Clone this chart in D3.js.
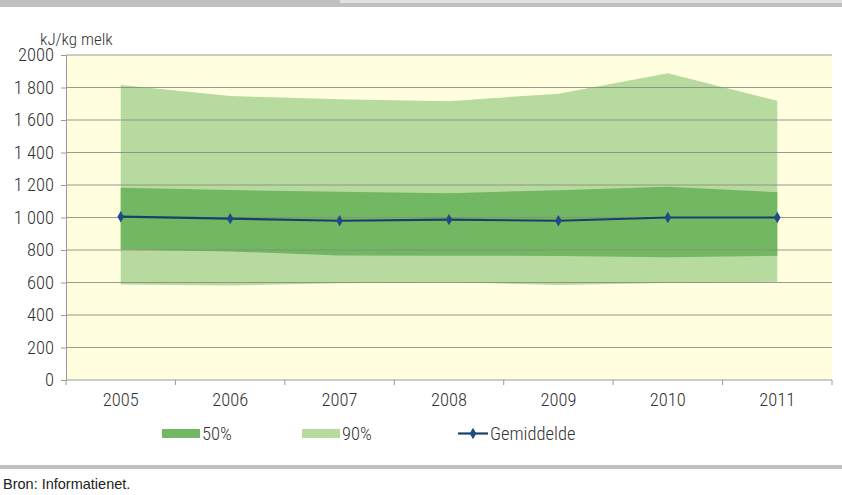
<!DOCTYPE html>
<html><head><meta charset="utf-8">
<script src="https://cdn.jsdelivr.net/npm/d3@7"></script>
<style>
body{margin:0;background:#fff;}
svg text{font-family:"Roboto Condensed","Liberation Sans Narrow",sans-serif;fill:#333;font-weight:300;}
svg text.src{font-family:"Liberation Sans",Arial,sans-serif;fill:#222;font-weight:normal;}
</style></head><body>
<svg id="c" width="842" height="495"></svg>
<script>
const years = ["2005","2006","2007","2008","2009","2010","2011"];
const p90Upper = [1815, 1748, 1727, 1716, 1762, 1887, 1718];
const p90Lower = [588, 581, 595, 602, 585, 597, 604];
const p50Upper = [1183, 1169, 1159, 1150, 1168, 1190, 1156];
const p50Lower = [803, 791, 766, 765, 763, 755, 765];
const mean = [1005, 993, 980, 987, 980, 1000, 1000];
const yTicks = [0,200,400,600,800,1000,1200,1400,1600,1800,2000];
const yTickLabels = ["0","200","400","600","800","1 000","1 200","1 400","1 600","1 800","2000"];
const legendLabels = ["50%","90%","Gemiddelde"];

const svg = d3.select("#c");
const L = 66, R = 832, T = 55, B = 380;
const x = d3.scaleBand().domain(years).range([L, R]);
const cx = d => x(d) + x.bandwidth()/2;
const y = d3.scaleLinear().domain([0,2000]).range([B, T]);
const FS = "18.5px";

// top decoration
svg.append("rect").attr("x",0).attr("y",0).attr("width",842).attr("height",7).attr("fill","#c0c0c0");
svg.append("rect").attr("x",340).attr("y",0).attr("width",502).attr("height",3).attr("fill","#e2e2e2");
// bottom rule
svg.append("rect").attr("x",0).attr("y",465).attr("width",842).attr("height",4).attr("fill","#c0c0c0");

// plot bg
svg.append("rect").attr("x",L).attr("y",T).attr("width",R-L).attr("height",B-T).attr("fill","#ffffdf");

const idx = years.map((d,i)=>i);
const area = (lo, hi) => d3.area().x(i=>cx(years[i])).y0(i=>y(lo[i])).y1(i=>y(hi[i]));
svg.append("path").datum(idx).attr("d", area(p90Lower,p90Upper)).attr("fill","#b7db9f");
svg.append("path").datum(idx).attr("d", area(p50Lower,p50Upper)).attr("fill","#72b762");

// grid
svg.append("g").selectAll("line").data(yTicks.filter(t=>t>0)).join("line")
  .attr("x1",L).attr("x2",R).attr("y1",d=>y(d)).attr("y2",d=>y(d))
  .attr("stroke","#8a8a80").attr("stroke-width",1.2).attr("opacity",0.85);

// y axis
const ya = svg.append("g").attr("transform",`translate(${L},0)`)
  .call(d3.axisLeft(y).tickValues(yTicks).tickSize(5).tickPadding(7).tickFormat((d,i)=>yTickLabels[i]));
ya.select(".domain").attr("stroke","#9a9a9a");
ya.selectAll(".tick line").attr("stroke","#9a9a9a");
ya.selectAll("text").style("font-size",FS).attr("fill","#333");

// x axis
const xa = svg.append("g").attr("transform",`translate(0,${B})`);
xa.append("line").attr("x1",L).attr("x2",R).attr("stroke","#9a9a9a");
xa.selectAll("line.t").data(d3.range(years.length+1)).join("line").attr("class","t")
  .attr("x1",i=>L+i*x.bandwidth()).attr("x2",i=>L+i*x.bandwidth()).attr("y1",0).attr("y2",5).attr("stroke","#9a9a9a");
xa.selectAll("text").data(years).join("text").attr("x",d=>cx(d)).attr("y",26)
  .attr("text-anchor","middle").style("font-size",FS).text(d=>d);

// mean line
svg.append("path").datum(idx).attr("d", d3.line().x(i=>cx(years[i])).y(i=>y(mean[i])))
  .attr("fill","none").attr("stroke","#17416a").attr("stroke-width",2.2);
const diamond = d3.symbol().type(d3.symbolDiamond).size(38);
svg.append("g").selectAll("path").data(idx).join("path")
  .attr("transform",i=>`translate(${cx(years[i])},${y(mean[i])})`).attr("d",diamond).attr("fill","#1f4a86");

// unit label
svg.append("text").attr("x",40).attr("y",45).style("font-size","17px").text("kJ/kg melk");

// legend
const lg = svg.append("g");
lg.append("rect").attr("x",162).attr("y",429).attr("width",38).attr("height",9).attr("fill","#72b762");
lg.append("text").attr("x",202).attr("y",440).style("font-size",FS).text(legendLabels[0]);
lg.append("rect").attr("x",302).attr("y",429).attr("width",38).attr("height",9).attr("fill","#b7db9f");
lg.append("text").attr("x",342).attr("y",440).style("font-size",FS).text(legendLabels[1]);
lg.append("line").attr("x1",458).attr("x2",488).attr("y1",433.5).attr("y2",433.5).attr("stroke","#17416a").attr("stroke-width",2.2);
lg.append("path").attr("transform","translate(473,433.5)").attr("d",diamond).attr("fill","#1f4a86");
lg.append("text").attr("x",490).attr("y",440).style("font-size",FS).text(legendLabels[2]);

// source
svg.append("text").attr("class","src").attr("x",3).attr("y",489).style("font-size","14.5px").text("Bron: Informatienet.");
</script>
</body></html>
